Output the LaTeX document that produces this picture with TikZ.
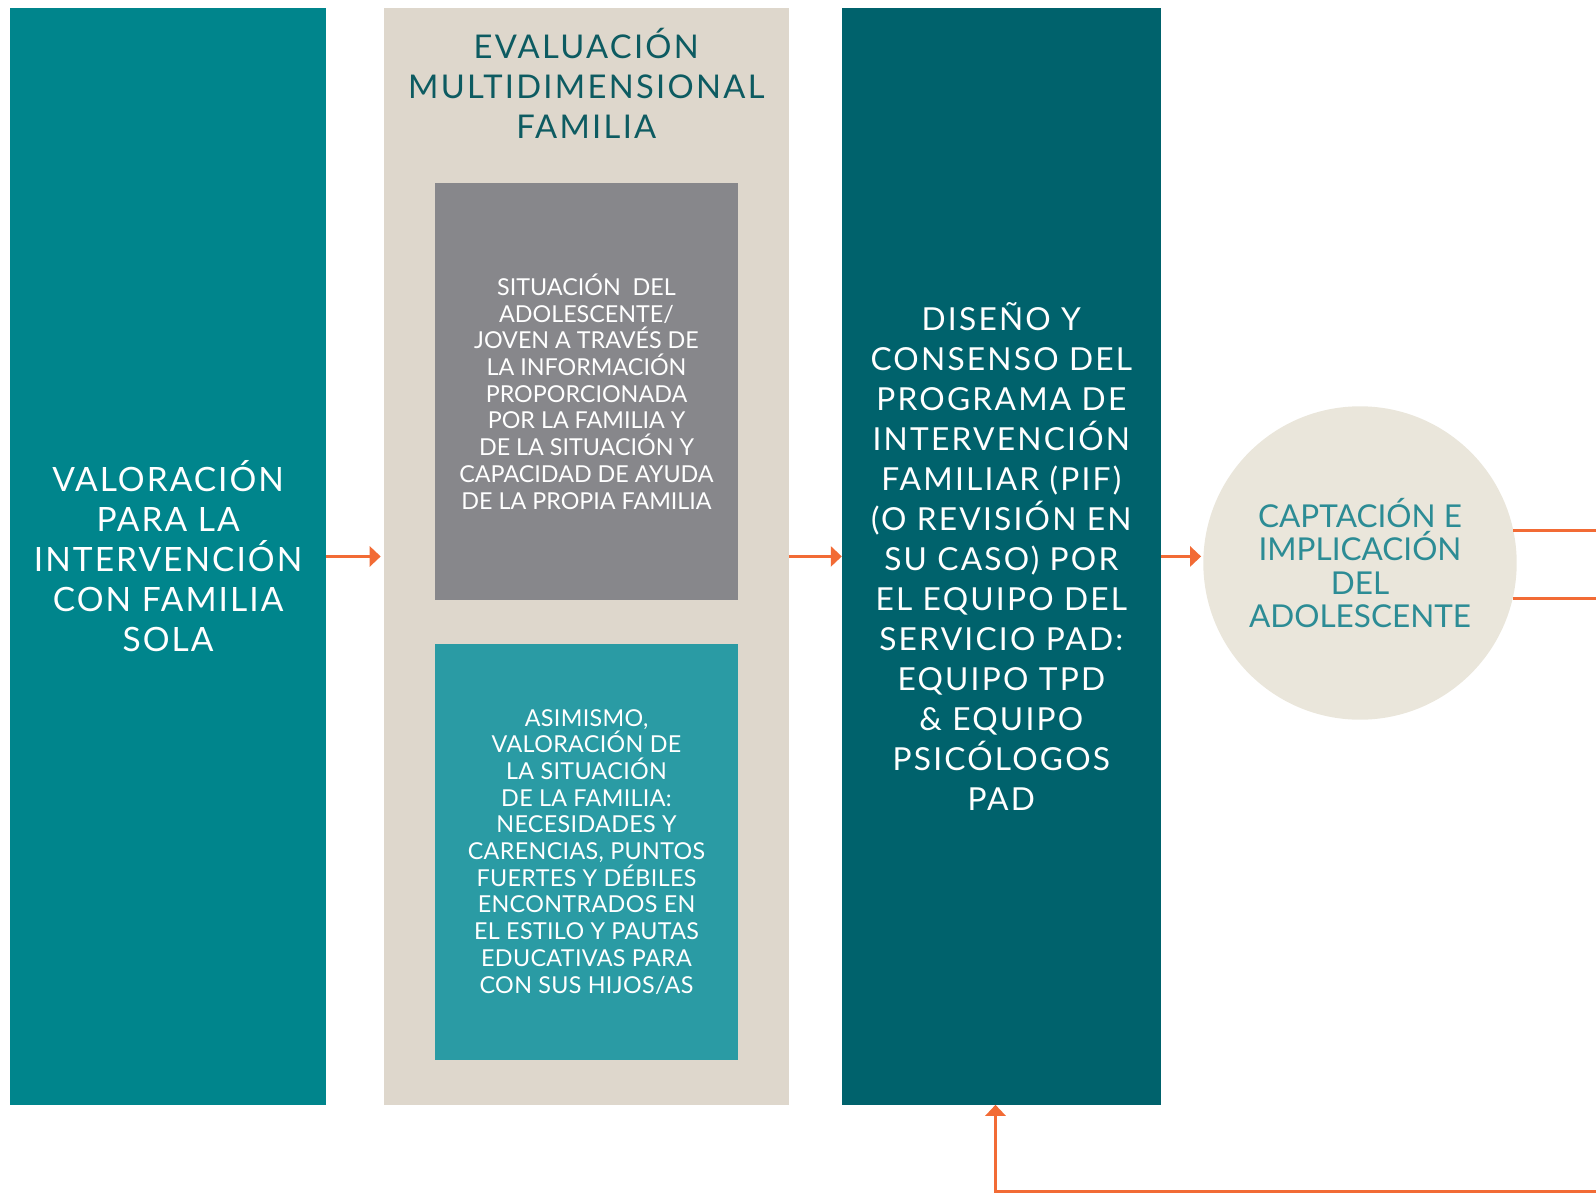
\documentclass[tikz,border=0pt]{standalone}
\usepackage{fontspec}
\setmainfont{Lato}
\usetikzlibrary{arrows.meta}
\definecolor{tealA}{HTML}{00858C}
\definecolor{beige}{HTML}{DED7CC}
\definecolor{gris}{HTML}{87878B}
\definecolor{tealB}{HTML}{2A9BA4}
\definecolor{oscuro}{HTML}{00626C}
\definecolor{crema}{HTML}{EAE6DB}
\definecolor{naranja}{HTML}{F26B35}
\definecolor{titulo}{HTML}{0D5B61}
\definecolor{circtexto}{HTML}{2C8C95}
\newcommand{\espaciado}[1]{\addfontfeatures{LetterSpace=#1}}
\begin{document}
\begin{tikzpicture}[x=1pt,y=-1pt,
    caja/.style={rectangle, inner sep=0pt, anchor=north west, align=center},
    flecha/.style={draw=naranja, line width=3pt, -{Triangle[length=11pt,width=20pt]}},
    linea/.style={draw=naranja, line width=3pt}]
            \useasboundingbox (0,0) rectangle (1596,1193);
            \node[caja, fill=tealA, minimum width=315.5pt, minimum height=1096.3pt, text=white,
                font=\fontsize{33.5}{40}\selectfont\espaciado{6}] (valoracion) at (10.2,8.1)
                {VALORACIÓN\\PARA LA\\INTERVENCIÓN\\CON FAMILIA\\SOLA};
            \node[caja, fill=beige, minimum width=405.1pt, minimum height=1096.3pt] (evaluacion) at (383.7,8.1) {};
            \node[align=center, text=titulo, font=\fontsize{32.7}{40}\selectfont\espaciado{7}] (tituloeval) at (586.3,83.5)
                {EVALUACIÓN\\MULTIDIMENSIONAL\\FAMILIA};
            \node[caja, fill=gris, minimum width=303.4pt, minimum height=416.3pt, text=white,
                font=\fontsize{23.3}{26.7}\selectfont] (situacion) at (434.6,183.2)
                {SITUACIÓN\ \ DEL\\ADOLESCENTE/\\JOVEN A TRAVÉS DE\\LA INFORMACIÓN\\PROPORCIONADA\\POR LA FAMILIA Y\\DE LA SITUACIÓN Y\\CAPACIDAD DE AYUDA\\DE LA PROPIA FAMILIA};
            \node[caja, fill=tealB, minimum width=303.4pt, minimum height=416.3pt, text=white,
                font=\fontsize{23.3}{26.7}\selectfont\espaciado{1.5}] (asimismo) at (434.6,643.3)
                {ASIMISMO,\\VALORACIÓN DE\\LA SITUACIÓN\\DE LA FAMILIA:\\NECESIDADES Y\\CARENCIAS, PUNTOS\\FUERTES Y DÉBILES\\ENCONTRADOS EN\\EL ESTILO Y PAUTAS\\EDUCATIVAS PARA\\CON SUS HIJOS/AS};
            \node[caja, fill=oscuro, minimum width=318.6pt, minimum height=1096.3pt, text=white,
                font=\fontsize{31.7}{40}\selectfont\espaciado{7}] (diseno) at (841.8,8.1)
                {DISEÑO Y\\CONSENSO DEL\\PROGRAMA DE\\INTERVENCIÓN\\FAMILIAR (PIF)\\(O REVISIÓN EN\\SU CASO) POR\\EL EQUIPO DEL\\SERVICIO PAD:\\EQUIPO TPD\\\& EQUIPO\\PSICÓLOGOS\\PAD};
            \node[circle, fill=crema, minimum size=313.4pt, inner sep=0pt, text=circtexto, align=center,
                font=\fontsize{31.5}{33.6}\selectfont] (captacion) at (1360,563)
                {CAPTACIÓN E\\IMPLICACIÓN\\DEL\\ADOLESCENTE};
            \coordinate (salidaA) at (1596,528.3);
            \coordinate (salidaB) at (1596,599.5);
            \coordinate (retorno) at (1596,1191.7);
            \coordinate (codo) at (995.5,1191.7);
            \draw[flecha, shorten >=3pt] (valoracion.east) -- (evaluacion.west);
            \draw[flecha] (evaluacion.east) -- (diseno.west);
            \draw[flecha, shorten >=2pt] (diseno.east) -- (diseno.east -| captacion.west);
            \draw[linea] (captacion.12.8) -- (captacion.12.8 -| salidaA);
            \draw[linea] (captacion.-13.5) -- (captacion.-13.5 -| salidaB);
            \draw[flecha] (retorno) -- (codo) -- (codo |- diseno.south);
\end{tikzpicture}
\end{document}
